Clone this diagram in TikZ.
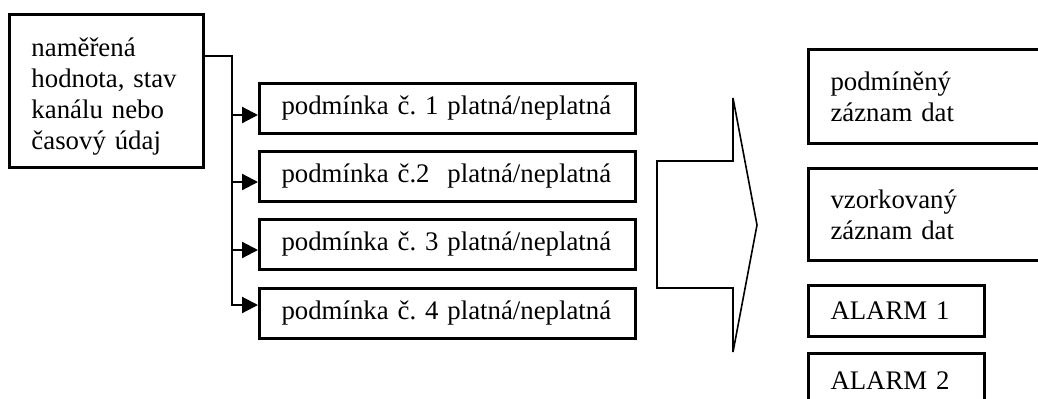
\documentclass[tikz,border=0pt]{standalone}
\usepackage{fontspec}
\setmainfont{Liberation Serif}
\frenchspacing
\usetikzlibrary{arrows.meta,calc}

\tikzset{
	box/.style={draw, line width=1.5pt, anchor=north west, inner xsep=11pt, inner ysep=0pt,
		align=left, font=\fontsize{13.4}{15.5}\selectfont},
	condbox/.style={box, minimum height=25pt, text width=166pt},
	outbox/.style={box, text width=112pt},
	alarmbox/.style={box, minimum height=25.5pt, text width=66pt},
	conn/.style={line width=1.1pt, -{Triangle[length=8pt,width=8pt]}}
}

\begin{document}
\begin{tikzpicture}[x=0.5pt,y=-0.5pt]
	\useasboundingbox (0,0) rectangle (1038,398);
	
	% input
	\node[box, minimum height=76.5pt, text width=75pt] (meas) at (8,13)
		{\rule{0pt}{14.5pt}naměřená\\hodnota, stav\\kanálu nebo\\časový údaj};
	
	% conditions
	\node[condbox] (c1) at (258,82) {podmínka č. 1 platná/neplatná};
	\node[condbox] (c2) at (258,150) {podmínka č.2~\ platná/neplatná};
	\node[condbox] (c3) at (258,218) {podmínka č. 3 platná/neplatná};
	\node[condbox] (c4) at (258,287) {podmínka č. 4 platná/neplatná};
	
	% branching
	\coordinate (m) at ($(meas.north east)+(0,43)$);
	\coordinate (t1) at (232,115);
	\coordinate (t2) at (232,182);
	\coordinate (t3) at (232,250);
	\coordinate (t4) at (232,305);
	\draw[conn] (m) -| (t4) -- (t4 -| c4.west);
	\foreach \i in {1,2,3}
		\draw[conn] (t\i) -- (t\i -| c\i.west);
	
	% big arrow
	\draw[line width=0.8pt, line join=miter] (657,161) -- (733,161) -- (733,98) -- (757,225)
		-- (733,352) -- (733,288) -- (657,288) -- cycle;
	
	% results
	\node[outbox, minimum height=47pt] (rec1) at (807,48) {podmíněný\\záznam dat};
	\node[outbox, minimum height=46pt] (rec2) at (807,167) {vzorkovaný\\záznam dat};
	\node[alarmbox] (al1) at (807,284) {ALARM 1};
	\node[alarmbox, minimum height=27pt] (al2) at (807,352) {ALARM 2};
\end{tikzpicture}
\end{document}
